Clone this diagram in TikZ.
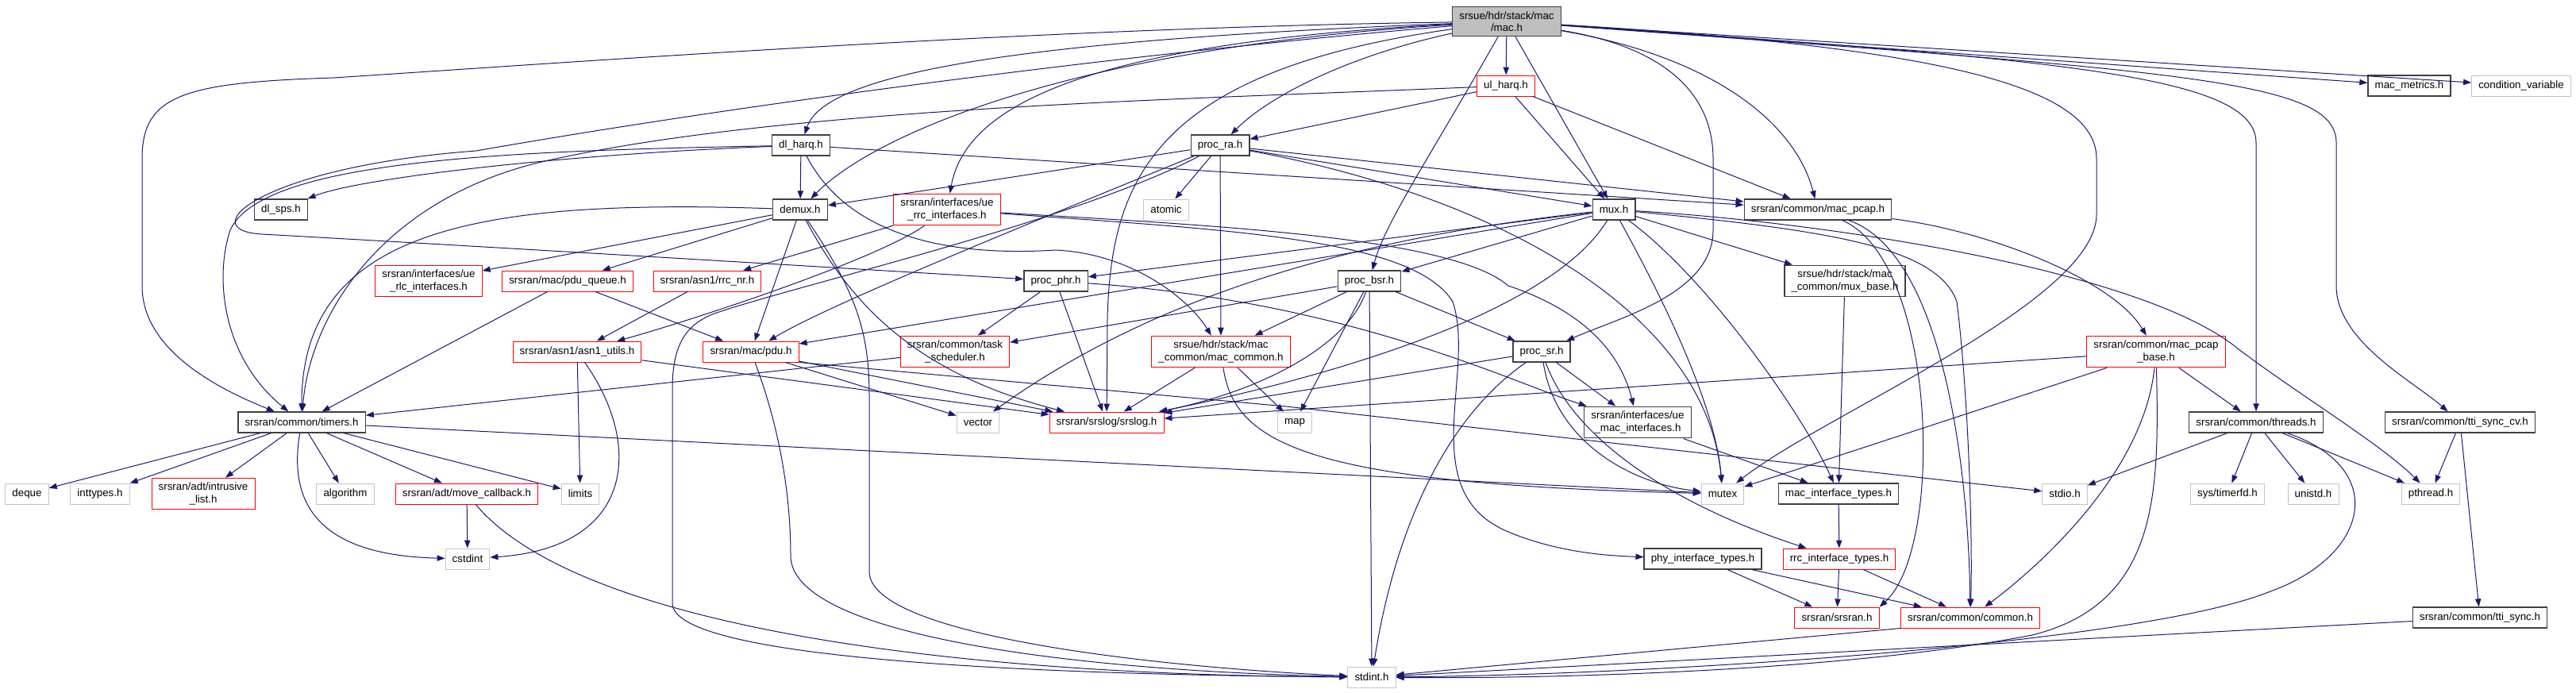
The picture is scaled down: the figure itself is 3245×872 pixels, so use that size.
\documentclass[tikz,border=0pt]{standalone}
\usepackage{fontspec}
\setmainfont{Liberation Sans}
\usetikzlibrary{arrows.meta}
\definecolor{incblue}{HTML}{191970}
\definecolor{rootfill}{HTML}{BFBFBF}
\definecolor{sysgray}{HTML}{C4C4C4}
\definecolor{docgray}{HTML}{404040}
\tikzset{
    hdr/.style={draw=docgray, line width=1pt, fill=white, align=center,
        font=\fontsize{10}{11.5}\selectfont, inner xsep=6.5pt, inner ysep=4.5pt,
        minimum height=19.5pt},
    roothdr/.style={hdr, fill=rootfill},
    cuthdr/.style={hdr, draw=red, line width=0.7pt},
    syshdr/.style={hdr, draw=sysgray, line width=0.7pt},
    inc/.style={draw=incblue, line width=0.75pt, -{Triangle[length=7.5pt,width=5.5pt]}},
}
\begin{document}
\begin{tikzpicture}[x=0.75pt, y=-0.75pt]
    \useasboundingbox (0,0) rectangle (3245,872);
    \node[roothdr] (mac) at (1898,27) {srsue/hdr/stack/mac\\/mac.h};
    \node[cuthdr] (ulharq) at (1897,108) {ul\_harq.h};
    \node[hdr] (macmetrics) at (3035,108) {mac\_metrics.h};
    \node[syshdr] (condvar) at (3176,108) {condition\_variable};
    \node[hdr] (dlharq) at (1009,183) {dl\_harq.h};
    \node[hdr] (procra) at (1537,183) {proc\_ra.h};
    \node[hdr] (dlsps) at (354,264) {dl\_sps.h};
    \node[hdr] (demux) at (1008,264) {demux.h};
    \node[cuthdr] (rrcif) at (1193,264) {srsran/interfaces/ue\\\_rrc\_interfaces.h};
    \node[syshdr] (atomic) at (1469,264) {atomic};
    \node[hdr] (mux) at (2033,264) {mux.h};
    \node[hdr] (macpcap) at (2290,264) {srsran/common/mac\_pcap.h};
    \node[cuthdr] (rlcif) at (540,354) {srsran/interfaces/ue\\\_rlc\_interfaces.h};
    \node[cuthdr] (pduqueue) at (715,354) {srsran/mac/pdu\_queue.h};
    \node[cuthdr] (rrcnr) at (891,354) {srsran/asn1/rrc\_nr.h};
    \node[hdr] (procphr) at (1330,354) {proc\_phr.h};
    \node[hdr] (procbsr) at (1725,354) {proc\_bsr.h};
    \node[hdr] (muxbase) at (2324,354) {srsue/hdr/stack/mac\\\_common/mux\_base.h};
    \node[cuthdr] (asn1utils) at (727,443) {srsran/asn1/asn1\_utils.h};
    \node[cuthdr] (pdu) at (946,443) {srsran/mac/pdu.h};
    \node[cuthdr] (tasksched) at (1203,443) {srsran/common/task\\\_scheduler.h};
    \node[cuthdr] (maccommon) at (1538,443) {srsue/hdr/stack/mac\\\_common/mac\_common.h};
    \node[hdr] (procsr) at (1942,443) {proc\_sr.h};
    \node[cuthdr] (macpcapbase) at (2716,443) {srsran/common/mac\_pcap\\\_base.h};
    \node[hdr] (timers) at (380,532) {srsran/common/timers.h};
    \node[syshdr] (vector) at (1232,532) {vector};
    \node[cuthdr] (srslog) at (1394,532) {srsran/srslog/srslog.h};
    \node[syshdr] (map) at (1631,532) {map};
    \node[hdr] (uemacif) at (2063,532) {srsran/interfaces/ue\\\_mac\_interfaces.h};
    \node[hdr] (threads) at (2842,532) {srsran/common/threads.h};
    \node[hdr] (ttisynccv) at (3099,532) {srsran/common/tti\_sync\_cv.h};
    \node[syshdr] (deque) at (34,622) {deque};
    \node[syshdr] (inttypes) at (126,622) {inttypes.h};
    \node[cuthdr] (intrusive) at (256,622) {srsran/adt/intrusive\\\_list.h};
    \node[syshdr] (algorithm) at (435,622) {algorithm};
    \node[cuthdr] (movecb) at (588,622) {srsran/adt/move\_callback.h};
    \node[syshdr] (limits) at (731,622) {limits};
    \node[syshdr] (mutex) at (2170,622) {mutex};
    \node[hdr] (macift) at (2316,622) {mac\_interface\_types.h};
    \node[syshdr] (stdio) at (2601,622) {stdio.h};
    \node[syshdr] (timerfd) at (2806,622) {sys/timerfd.h};
    \node[syshdr] (unistd) at (2914,622) {unistd.h};
    \node[syshdr] (pthread) at (3062,622) {pthread.h};
    \node[syshdr] (cstdint) at (589,704) {cstdint};
    \node[hdr] (phyift) at (2145,704) {phy\_interface\_types.h};
    \node[cuthdr] (rrcift) at (2317,704) {rrc\_interface\_types.h};
    \node[cuthdr] (srsranh) at (2314,778) {srsran/srsran.h};
    \node[cuthdr] (common) at (2482,778) {srsran/common/common.h};
    \node[hdr] (ttisync) at (3124,778) {srsran/common/tti\_sync.h};
    \node[syshdr] (stdint) at (1728,853) {stdint.h};

    \draw[inc] (mac) -- (ulharq);
    \draw[inc] (mac) .. controls (1300,50) and (1040,90) .. (dlharq);
    \draw[inc] (mac) .. controls (1350,60) and (1100,170) .. (demux);
    \draw[inc] (mac) .. controls (1350,55) and (1215,140) .. (rrcif);
    \draw[inc] (mac) .. controls (1300,35) and (700,80) .. (420,98) .. controls (230,104) and (179,120) .. (179,200) -- (179,360) .. controls (179,430) and (250,480) .. (timers);
    \draw[inc] (mac) .. controls (1500,60) and (1000,120) .. (600,190) .. controls (330,210) and (240,290) .. (330,295) .. controls (600,310) and (1100,340) .. (procphr);
    \draw[inc] (mac) .. controls (1700,70) and (1600,120) .. (procra);
    \draw[inc] (mac) .. controls (1450,90) and (1400,230) .. (1395,400) -- (srslog);
    \draw[inc] (mac) -- (mux);
    \draw[inc] (mac) .. controls (1800,200) and (1745,280) .. (procbsr);
    \draw[inc] (mac) .. controls (2100,60) and (2158,120) .. (2158,200) -- (2158,290) .. controls (2158,370) and (2040,400) .. (procsr);
    \draw[inc] (mac) .. controls (2150,70) and (2260,150) .. (macpcap);
    \draw[inc] (mac) .. controls (2450,60) and (2641,110) .. (2641,200) -- (2641,270) .. controls (2641,380) and (2300,520) .. (mutex);
    \draw[inc] (mac) .. controls (2600,75) and (2842,95) .. (2842,180) -- (threads);
    \draw[inc] (mac) .. controls (2750,90) and (2943,100) .. (2943,180) -- (2943,360) .. controls (2943,430) and (3040,480) .. (ttisynccv);
    \draw[inc] (mac) -- (macmetrics);
    \draw[inc] (mac) -- (condvar);

    \draw[inc] (ulharq) -- (procra);
    \draw[inc] (ulharq) -- (mux);
    \draw[inc] (ulharq) -- (macpcap);
    \draw[inc] (ulharq) .. controls (1500,125) and (1000,135) .. (700,200) .. controls (480,245) and (390,400) .. (timers);

    \draw[inc] (dlharq) .. controls (700,195) and (450,225) .. (dlsps);
    \draw[inc] (dlharq) -- (demux);
    \draw[inc] (dlharq) .. controls (650,190) and (330,200) .. (290,290) .. controls (270,350) and (280,450) .. (timers);
    \draw[inc] (dlharq) -- (macpcap);
    \draw[inc] (dlharq) .. controls (1080,320) and (1250,320) .. (1330,315) .. controls (1430,320) and (1500,380) .. (maccommon);

    \draw[inc] (procra) -- (demux);
    \draw[inc] (procra) -- (atomic);
    \draw[inc] (procra) -- (maccommon);
    \draw[inc] (procra) -- (mux);
    \draw[inc] (procra) -- (macpcap);
    \draw[inc] (procra) .. controls (1900,250) and (2150,400) .. (mutex);
    \draw[inc] (procra) .. controls (1350,260) and (1050,380) .. (pdu);
    \draw[inc] (procra) .. controls (1350,280) and (1000,360) .. (900,395) .. controls (860,410) and (847,440) .. (847,490) -- (847,760) .. controls (847,830) and (1300,850) .. (stdint);

    \draw[inc] (demux) -- (rlcif);
    \draw[inc] (demux) -- (pduqueue);
    \draw[inc] (demux) .. controls (600,250) and (380,290) .. (timers);
    \draw[inc] (demux) -- (pdu);
    \draw[inc] (demux) .. controls (1070,380) and (1150,470) .. (srslog);
    \draw[inc] (demux) .. controls (1080,370) and (1095,420) .. (1095,500) -- (1095,720) .. controls (1095,800) and (1450,840) .. (stdint);

    \draw[inc] (rrcif) -- (rrcnr);
    \draw[inc] (rrcif) .. controls (1100,330) and (850,410) .. (asn1utils);
    \draw[inc] (rrcif) .. controls (1550,290) and (1780,300) .. (1830,380) .. controls (1860,470) and (1780,620) .. (1900,670) .. controls (1960,695) and (2020,700) .. (phyift);
    \draw[inc] (rrcif) .. controls (1550,285) and (1830,300) .. (1900,360) .. controls (1990,390) and (2040,440) .. (uemacif);

    \draw[inc] (mux) -- (procphr);
    \draw[inc] (mux) -- (procbsr);
    \draw[inc] (mux) -- (pdu);
    \draw[inc] (mux) .. controls (1950,400) and (1650,480) .. (srslog);
    \draw[inc] (mux) .. controls (1800,290) and (1500,340) .. (vector);
    \draw[inc] (mux) -- (muxbase);
    \draw[inc] (mux) .. controls (2150,350) and (2270,520) .. (macift);
    \draw[inc] (mux) .. controls (2080,350) and (2160,500) .. (mutex);
    \draw[inc] (mux) .. controls (2300,290) and (2440,310) .. (2465,380) .. controls (2480,500) and (2485,680) .. (common);
    \draw[inc] (mux) .. controls (2300,280) and (2700,340) .. (2820,440) .. controls (2900,500) and (3000,560) .. (pthread);

    \draw[inc] (macpcap) .. controls (2500,290) and (2660,350) .. (macpcapbase);
    \draw[inc] (macpcap) .. controls (2450,320) and (2480,600) .. (common);
    \draw[inc] (macpcap) .. controls (2440,330) and (2450,690) .. (srsranh.north east);

    \draw[inc] (procphr) -- (tasksched);
    \draw[inc] (procphr) -- (srslog);
    \draw[inc] (procphr) .. controls (1700,380) and (1900,480) .. (uemacif);

    \draw[inc] (procbsr) -- (tasksched);
    \draw[inc] (procbsr) -- (maccommon);
    \draw[inc] (procbsr) .. controls (1700,430) and (1600,490) .. (srslog);
    \draw[inc] (procbsr) -- (map);
    \draw[inc] (procbsr) -- (stdint);
    \draw[inc] (procbsr) -- (procsr);

    \draw[inc] (procsr) -- (srslog);
    \draw[inc] (procsr) .. controls (1830,520) and (1760,650) .. (stdint);
    \draw[inc] (procsr) -- (uemacif);
    \draw[inc] (procsr) .. controls (1960,560) and (2060,610) .. (mutex);
    \draw[inc] (procsr) .. controls (1985,560) and (2120,640) .. (rrcift);

    \draw[inc] (maccommon) -- (srslog);
    \draw[inc] (maccommon) -- (map);
    \draw[inc] (maccommon) .. controls (1555,560) and (1650,610) .. (mutex);

    \draw[inc] (tasksched) -- (timers);
    \draw[inc] (pduqueue) -- (timers);
    \draw[inc] (pduqueue) -- (pdu);
    \draw[inc] (rrcnr) -- (asn1utils);

    \draw[inc] (asn1utils) -- (limits);
    \draw[inc] (asn1utils) .. controls (810,560) and (800,690) .. (cstdint);
    \draw[inc] (asn1utils) -- (srslog);

    \draw[inc] (pdu) -- (srslog);
    \draw[inc] (pdu) -- (vector);
    \draw[inc] (pdu) .. controls (990,560) and (996,650) .. (996,700) .. controls (996,800) and (1350,845) .. (stdint);
    \draw[inc] (pdu.south east) -- (1620,512) -- (stdio);

    \draw[inc] (timers) -- (deque);
    \draw[inc] (timers) -- (inttypes);
    \draw[inc] (timers) -- (intrusive);
    \draw[inc] (timers) -- (algorithm);
    \draw[inc] (timers) -- (movecb);
    \draw[inc] (timers) -- (limits);
    \draw[inc] (timers) .. controls (360,650) and (420,700) .. (cstdint);
    \draw[inc] (timers) -- (mutex);

    \draw[inc] (movecb) -- (cstdint);
    \draw[inc] (movecb) .. controls (720,780) and (1150,850) .. (stdint);

    \draw[inc] (uemacif) -- (macift);
    \draw[inc] (muxbase) -- (macift);
    \draw[inc] (macift) -- (rrcift);
    \draw[inc] (rrcift) -- (srsranh);
    \draw[inc] (rrcift) -- (common);
    \draw[inc] (phyift) -- (srsranh);
    \draw[inc] (phyift) -- (common);

    \draw[inc] (macpcapbase) -- (srslog);
    \draw[inc] (macpcapbase) -- (mutex);
    \draw[inc] (macpcapbase) -- (threads);
    \draw[inc] (macpcapbase) .. controls (2700,600) and (2560,720) .. (common);
    \draw[inc] (macpcapbase) .. controls (2720,620) and (2720,760) .. (2560,800) .. controls (2300,850) and (1900,855) .. (stdint);

    \draw[inc] (threads) -- (stdio);
    \draw[inc] (threads) -- (timerfd);
    \draw[inc] (threads) -- (unistd);
    \draw[inc] (threads) -- (pthread);
    \draw[inc] (threads) .. controls (3010,590) and (2985,700) .. (2860,745) .. controls (2700,810) and (2100,850) .. (stdint);

    \draw[inc] (ttisynccv) -- (pthread);
    \draw[inc] (ttisynccv) -- (ttisync);
    \draw[inc] (ttisync) -- (stdint);
    \draw[inc] (common.south west) -- (stdint);
\end{tikzpicture}
\end{document}
